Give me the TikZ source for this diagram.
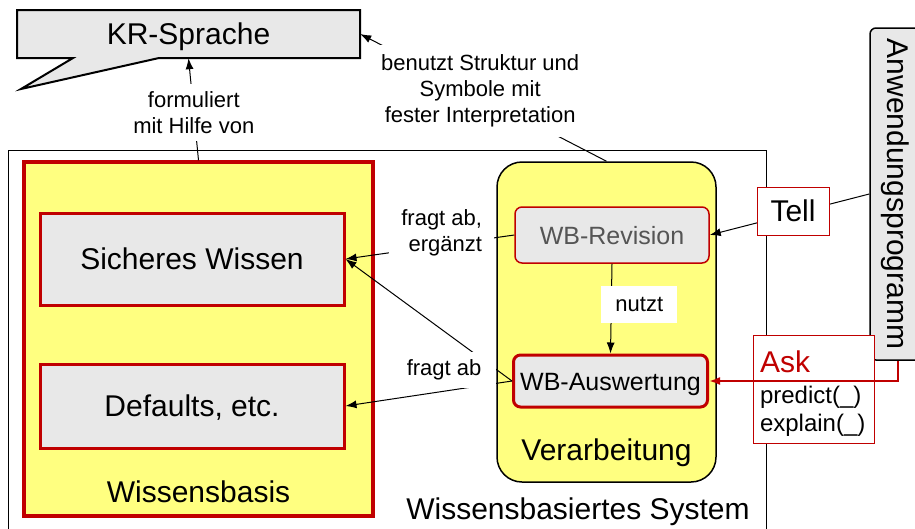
\documentclass[tikz,border=0pt]{standalone}
\usepackage{fontspec}
\setmainfont{Liberation Sans}
\usetikzlibrary{arrows.meta}
\definecolor{kyellow}{HTML}{FFFF80}
\definecolor{kred}{HTML}{C00000}
\definecolor{kgray}{HTML}{E8E8E8}
\definecolor{kdgray}{HTML}{555555}
\begin{document}
\begin{tikzpicture}[x=1pt,y=-1pt,
  big/.style={font=\fontsize{30}{36}\selectfont},
  mid/.style={font=\fontsize{25}{30}\selectfont},
  small/.style={font=\fontsize{22}{26}\selectfont},
  arr/.style={-{Latex[length=11pt,width=8pt]}, line width=1pt},
  lbl/.style={small, fill=white, align=center, inner sep=0pt},
  capc/.style={text height=21.5pt, text depth=0pt},
  redbox/.style={draw=kred, line width=3pt, fill=kgray, inner sep=0pt, big, capc},
  wbbox/.style={draw=kred, line width=3.5pt, fill=kyellow, inner sep=0pt},
  verbox/.style={draw, line width=1.5pt, fill=kyellow, rounded corners=25pt, inner sep=0pt},
  procbox/.style={draw=kred, fill=kgray, rounded corners=7pt, inner sep=0pt, mid, text height=18pt, text depth=0pt, minimum width=194pt},
  ifbox/.style={draw=kred, line width=1pt, fill=white, inner sep=0pt},
]
\useasboundingbox (0,0) rectangle (915,528);
% system frame
\node[draw, line width=1pt, minimum width=758pt, minimum height=400pt, inner sep=0pt] (sys) at (387,350) {};
% speech bubble
\filldraw[fill=kgray, draw=black, line width=2pt, line join=miter]
  (17,10) -- (360,10) -- (360,58) -- (159,58) -- (21,89) -- (73,58) -- (17,58) -- cycle;
\node[big, capc, minimum width=343pt, minimum height=48pt, inner sep=0pt] (kr) at (188.5,34) {KR-Sprache};
% Wissensbasis
\node[wbbox, minimum width=349pt, minimum height=354pt] (wb) at (198.5,339) {};
\node[redbox, minimum width=304pt, minimum height=92pt] (sw) at (192,259) {Sicheres Wissen};
\node[redbox, minimum width=304pt, minimum height=84pt] (df) at (192,406) {Defaults, etc.};
\node[big, anchor=base] (wbt) at (198.5,502) {Wissensbasis};
% Verarbeitung
\node[verbox, minimum width=219pt, minimum height=320pt] (ver) at (606.5,322) {};
\node[big, anchor=base] (vert) at (606.5,460) {Verarbeitung};
\node[procbox, line width=1.5pt, text=kdgray, minimum height=56pt] (rev) at (612,235) {WB-Revision};
\node[procbox, line width=3pt, minimum height=52pt] (wa) at (610.5,381) {WB-Auswertung};
% Anwendungsprogramm
\node[draw, line width=1.5pt, fill=kgray, rounded corners=6pt, minimum width=56pt, minimum height=332pt, inner sep=0pt, big] (ap) at (898,194)
  {\rotatebox{-90}{\raisebox{0pt}[21.5pt][0pt]{Anwendungsprogramm}}};
% connectors
\draw[arr] (wb.north) -- node[lbl, pos=0.47, minimum height=57pt] (l1) {formuliert\\mit Hilfe von} (kr.south);
\draw[arr] (ver.north) -- node[lbl, pos=0.513, yshift=5pt, minimum height=92pt, inner xsep=3pt] (l2) {benutzt Struktur und\\Symbole mit\\fester Interpretation} (kr.east);
\draw[arr] (rev.west) -- node[lbl, pos=0.43, yshift=13pt, align=right, inner xsep=12pt, inner ysep=4pt] (l3) {fragt ab,\\ergänzt} (sw.east);
\draw[arr] (wa.west) -- (sw.east);
\draw[arr] (wa.west) -- node[lbl, pos=0.408, yshift=21pt, minimum width=104pt, minimum height=36pt] (l4) {fragt ab} (df.east);
\draw[arr] (rev.south) -- node[lbl, pos=0.45, xshift=28pt, minimum width=76pt, minimum height=37pt] (l5) {nutzt} (wa.north);
\draw[arr] (ap.west) -- node[ifbox, big, capc, pos=0.478, yshift=2.6pt, minimum width=72pt, minimum height=48pt] (tell) {Tell} (rev.east);
% Ask
\node[ifbox, minimum width=121pt, minimum height=108pt, inner xsep=7pt, align=left, text width=107pt, font=\fontsize{24}{28}\selectfont] (ask) at (813.5,389)
  {{\color{kred}\fontsize{30}{30}\selectfont\rule{0pt}{30pt}Ask}\\[3pt]predict(\_)\\explain(\_)};
\draw[-{Latex[length=11pt,width=8pt]}, draw=kred, line width=2pt] (ap.south) |- (wa.east);
% system label
\node[big, anchor=base] (syst) at (578,519) {Wissensbasiertes System};
\end{tikzpicture}
\end{document}
